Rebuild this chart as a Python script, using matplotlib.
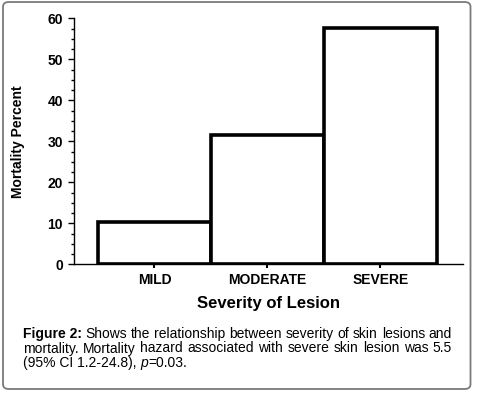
import matplotlib
matplotlib.use("Agg")
import matplotlib.pyplot as plt
from matplotlib.patches import FancyBboxPatch
from matplotlib.ticker import MultipleLocator

categories = ["MILD", "MODERATE", "SEVERE"]
mortality = [10.4, 31.5, 57.6]
yticks = [0, 10, 20, 30, 40, 50, 60]
xlabel = "Severity of Lesion"
ylabel = "Mortality Percent"
caption_lines = [
    ("Figure 2:", " Shows the relationship between severity of skin lesions and"),
    ("", "mortality. Mortality hazard associated with severe skin lesion was 5.5"),
]

plt.rcParams['font.family'] = ['Liberation Sans', 'DejaVu Sans']

W, H = 481, 399
fig = plt.figure(figsize=(W / 100, H / 100), dpi=100)

# rounded frame
frame = FancyBboxPatch((3 / W, 10 / H), 467.5 / W, 387 / H,
                       boxstyle="round,pad=0,rounding_size=0.012",
                       transform=fig.transFigure, facecolor="none",
                       edgecolor="#7a7a7a", linewidth=1.3, zorder=0)
fig.patches.append(frame)

ax = fig.add_axes([74 / W, (H - 264.3) / H, (463 - 74) / W, (264.3 - 18.3) / H])
ax.set_facecolor("none")
x = list(range(len(categories)))
ax.bar(x, mortality, width=1.0, facecolor="white", edgecolor="black", linewidth=2.6, zorder=2)
ax.set_xlim(-0.712, 2.73)
ax.set_ylim(0, 60)
ax.set_yticks(yticks)
ax.yaxis.set_minor_locator(MultipleLocator(2.5))
ax.set_xticks(x)
ax.set_xticklabels(categories, fontsize=10, fontweight="bold")
for lab in ax.get_yticklabels():
    lab.set_fontweight("bold")
    lab.set_fontsize(10)
ax.tick_params(axis="y", which="major", length=4, width=1, pad=4)
ax.tick_params(axis="y", which="minor", length=2, width=1)
ax.tick_params(axis="x", which="major", length=3, width=1.5, pad=3.5)
ax.spines["top"].set_visible(False)
ax.spines["right"].set_visible(False)
ax.spines["left"].set_linewidth(1.0)
ax.spines["bottom"].set_linewidth(1.0)
ax.spines["bottom"].set_zorder(3)
ax.set_xlabel(xlabel, fontsize=12, fontweight="bold", labelpad=6)
ax.set_ylabel(ylabel, fontsize=10, fontweight="bold")
ax.yaxis.set_label_coords(-0.126, 0.5)

# caption with justified lines
fig.canvas.draw()
renderer = fig.canvas.get_renderer()
left_px, right_px = 23, 452
fs = 10
line_y = [334, 348.5]
for (bold_part, rest), yy in zip(caption_lines, line_y):
    words = []
    if bold_part:
        words.append((bold_part, "bold"))
    for w in rest.split():
        words.append((w, "normal"))
    texts = [fig.text(0, 1 - yy / H, w, fontsize=fs, fontweight=fw, va="center", ha="left", color="#000000")
             for w, fw in words]
    widths = [t.get_window_extent(renderer).width for t in texts]
    gap = (right_px - left_px - sum(widths)) / (len(texts) - 1)
    pos = left_px
    for t, wd in zip(texts, widths):
        t.set_x(pos / W)
        pos += wd + gap

yy = 363
parts = [("(95% CI 1.2-24.8), ", "normal"), ("p", "italic"), ("=0.03.", "normal")]
pos = left_px
for s, style in parts:
    t = fig.text(pos / W, 1 - yy / H, s, fontsize=fs, style=style, va="center", ha="left", color="#000000")
    pos += t.get_window_extent(renderer).width

fig.savefig("out.png", dpi=100)
